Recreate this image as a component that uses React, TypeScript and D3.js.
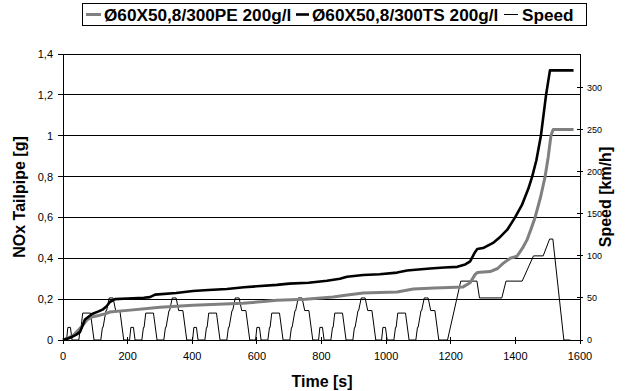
import React from "react";
import * as d3 from "d3";

const W = 627;
const H = 391;

// Speed profile (time [s], speed [km/h])
const speedTime = [
  0, 11, 15, 23, 28, 49, 54, 56, 61, 85, 96, 117, 122, 124, 133, 135, 143, 155, 163, 176, 188,
  206, 210, 218, 223, 244, 249, 251, 256, 280, 291, 312, 317, 319, 328, 330, 338, 350, 358, 371, 383,
  401, 405, 413, 418, 439, 444, 446, 451, 475, 486, 507, 512, 514, 523, 525, 533, 545, 553, 566, 578,
  596, 600, 608, 613, 634, 639, 641, 646, 670, 681, 702, 707, 709, 718, 720, 728, 740, 748, 761, 773,
  791, 795, 803, 808, 829, 834, 836, 841, 865, 876, 897, 902, 904, 913, 915, 923, 935, 943, 956, 968,
  986, 990, 998, 1003, 1024, 1029, 1031, 1036, 1060, 1071, 1092, 1097, 1099, 1108, 1110, 1118, 1130, 1138, 1151, 1163,
  1190, 1231, 1281, 1289, 1358, 1371, 1421, 1456, 1486, 1506, 1516, 1550, 1570,
];
const speedValue = [
  0, 0, 15, 15, 0, 0, 15, 15, 32, 32, 0, 0, 15, 15, 35, 35, 50, 50, 35, 35, 0,
  0, 15, 15, 0, 0, 15, 15, 32, 32, 0, 0, 15, 15, 35, 35, 50, 50, 35, 35, 0,
  0, 15, 15, 0, 0, 15, 15, 32, 32, 0, 0, 15, 15, 35, 35, 50, 50, 35, 35, 0,
  0, 15, 15, 0, 0, 15, 15, 32, 32, 0, 0, 15, 15, 35, 35, 50, 50, 35, 35, 0,
  0, 15, 15, 0, 0, 15, 15, 32, 32, 0, 0, 15, 15, 35, 35, 50, 50, 35, 35, 0,
  0, 15, 15, 0, 0, 15, 15, 32, 32, 0, 0, 15, 15, 35, 35, 50, 50, 35, 35, 0,
  0, 70, 70, 50, 50, 70, 70, 100, 100, 120, 120, 0, 0,
];

// NOx cumulative – TS (black)
const tsTime = [
  0, 20, 40, 53, 68, 90, 110, 124, 135, 145, 161, 200, 250, 269, 285, 350, 402, 450, 507, 560, 600,
  662, 700, 760, 817, 857, 879, 929, 980, 1034, 1065, 1100, 1136, 1180, 1220, 1245, 1260, 1275, 1282,
  1300, 1331, 1350, 1375, 1399, 1420, 1440, 1452, 1465, 1479, 1495, 1507, 1580,
];
const tsValue = [
  0, 0.01, 0.025, 0.04, 0.1, 0.127, 0.14, 0.15, 0.165, 0.186, 0.2, 0.203, 0.207, 0.21, 0.222, 0.23, 0.24,
  0.245, 0.25, 0.258, 0.263, 0.27, 0.276, 0.28, 0.29, 0.3, 0.31, 0.318, 0.322, 0.33, 0.34, 0.345, 0.35,
  0.355, 0.358, 0.37, 0.385, 0.43, 0.445, 0.45, 0.475, 0.5, 0.54, 0.6, 0.66, 0.74, 0.8, 0.88, 1.0, 1.2,
  1.32, 1.32,
];

// NOx cumulative – PE (gray)
const peTime = [
  0, 30, 60, 75, 90, 110, 130, 145, 160, 200, 269, 300, 402, 480, 557, 620, 662, 750, 836, 880, 929,
  980, 1034, 1084, 1150, 1238, 1260, 1275, 1282, 1322, 1345, 1362, 1384, 1405, 1424, 1436, 1450, 1461,
  1478, 1492, 1502, 1510, 1517, 1580,
];
const peValue = [
  0, 0.02, 0.07, 0.1, 0.113, 0.12, 0.128, 0.137, 0.14, 0.145, 0.155, 0.16, 0.17, 0.175, 0.18, 0.188,
  0.195, 0.2, 0.21, 0.22, 0.23, 0.232, 0.235, 0.25, 0.255, 0.26, 0.28, 0.32, 0.33, 0.335, 0.35, 0.375,
  0.4, 0.41, 0.455, 0.49, 0.55, 0.6, 0.7, 0.8, 0.9, 1.0, 1.03, 1.03,
];

const xTicks = [0, 200, 400, 600, 800, 1000, 1200, 1400, 1600];
const yLeftTicks = [0, 0.2, 0.4, 0.6, 0.8, 1.0, 1.2, 1.4];
const yRightTicks = [0, 50, 100, 150, 200, 250, 300];

const legendLabels = ["Ø60X50,8/300PE 200g/l", "Ø60X50,8/300TS 200g/l", "Speed"];

const FONT = "Liberation Sans, Arial, sans-serif";

export default function App() {
  const left = 63, right = 580, top = 54, bottom = 340;
  const x = d3.scaleLinear().domain([0, 1600]).range([left, right]);
  const yL = d3.scaleLinear().domain([0, 1.4]).range([bottom, top]);
  const yR = d3.scaleLinear().domain([0, 340]).range([bottom, top]);

  const lineL = d3.line<[number, number]>().x((d) => x(d[0])).y((d) => yL(d[1]));
  const lineR = d3.line<[number, number]>().x((d) => x(d[0])).y((d) => yR(d[1]));

  const speedPts = speedTime.map((t, i) => [t, speedValue[i]] as [number, number]);
  const tsPts = tsTime.map((t, i) => [t, tsValue[i]] as [number, number]);
  const pePts = peTime.map((t, i) => [t, peValue[i]] as [number, number]);

  const fmt = (v: number) => String(+v.toFixed(1)).replace(".", ",");
  const LF = 17.2;

  return (
    <svg
      width={W}
      height={H}
      style={{ position: "absolute", left: 0, top: 0, background: "#fff" }}
      fontFamily={FONT}
    >
      <rect x={0} y={0} width={W} height={H} fill="#fff" />
      {/* gridlines */}
      {yLeftTicks.filter((v) => v > 0).map((v) => (
        <line key={v} x1={left} x2={right} y1={yL(v)} y2={yL(v)} stroke="#000" strokeWidth={1} shapeRendering="crispEdges" />
      ))}
      {/* series */}
      <path d={lineR(speedPts) || ""} fill="none" stroke="#000" strokeWidth={1} strokeLinejoin="round" />
      <path d={lineL(pePts) || ""} fill="none" stroke="#808080" strokeWidth={3} strokeLinejoin="round" />
      <path d={lineL(tsPts) || ""} fill="none" stroke="#000" strokeWidth={2.6} strokeLinejoin="round" />

      {/* axes */}
      <line x1={left} x2={left} y1={top} y2={bottom} stroke="#000" shapeRendering="crispEdges" />
      <line x1={right} x2={right} y1={top} y2={bottom} stroke="#000" shapeRendering="crispEdges" />
      <line x1={left} x2={right} y1={bottom} y2={bottom} stroke="#000" shapeRendering="crispEdges" />

      {/* left ticks */}
      {yLeftTicks.map((v) => (
        <g key={"l" + v}>
          <line x1={left - 5} x2={left} y1={yL(v)} y2={yL(v)} stroke="#000" shapeRendering="crispEdges" />
          <text x={left - 10} y={yL(v) + 4} textAnchor="end" fontSize={11} fill="#000">
            {fmt(v)}
          </text>
        </g>
      ))}
      {/* right ticks */}
      {yRightTicks.map((v) => (
        <g key={"r" + v}>
          <line x1={right - 3} x2={right + 3} y1={yR(v)} y2={yR(v)} stroke="#000" shapeRendering="crispEdges" />
          <text x={right + 7} y={yR(v) + 3} textAnchor="start" fontSize={9} fill="#000">
            {v}
          </text>
        </g>
      ))}
      {/* bottom ticks */}
      {xTicks.map((v) => (
        <g key={"b" + v}>
          <line x1={x(v)} x2={x(v)} y1={bottom - 3} y2={bottom + 4} stroke="#000" shapeRendering="crispEdges" />
          <text x={x(v)} y={bottom + 20} textAnchor="middle" fontSize={11} fill="#000">
            {v}
          </text>
        </g>
      ))}

      {/* axis titles */}
      <text x={322} y={387} textAnchor="middle" fontSize={16} fontWeight="bold">Time [s]</text>
      <text transform={`translate(25,${(top + bottom) / 2}) rotate(-90)`} textAnchor="middle" fontSize={16} fontWeight="bold">
        NOx Tailpipe [g]
      </text>
      <text transform={`translate(611,${(top + bottom) / 2}) rotate(-90)`} textAnchor="middle" fontSize={16} fontWeight="bold">
        Speed [km/h]
      </text>

      {/* legend */}
      <rect x={82.5} y={3.5} width={504} height={22} fill="#fff" stroke="#000" strokeWidth={1} />
      <line x1={86} x2={101} y1={14.5} y2={14.5} stroke="#808080" strokeWidth={3} />
      <text x={104} y={20.5} fontSize={LF} fontWeight="bold">{legendLabels[0]}</text>
      <line x1={296} x2={309} y1={14.5} y2={14.5} stroke="#000" strokeWidth={2.6} />
      <text x={312} y={20.5} fontSize={LF} fontWeight="bold">{legendLabels[1]}</text>
      <line x1={504} x2={518} y1={14.5} y2={14.5} stroke="#000" strokeWidth={1} />
      <text x={522} y={20.5} fontSize={LF} fontWeight="bold">{legendLabels[2]}</text>
    </svg>
  );
}
